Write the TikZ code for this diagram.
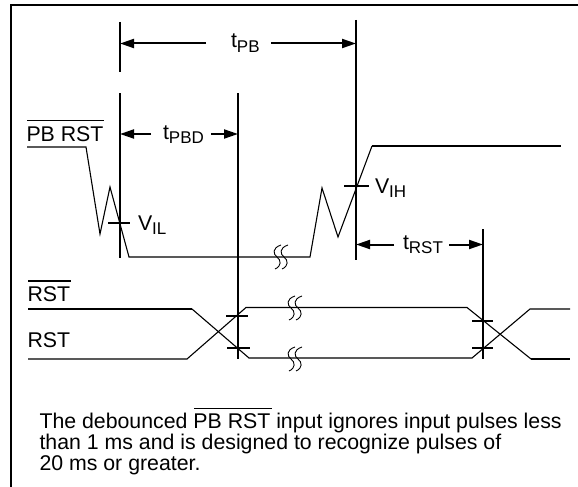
\documentclass[tikz,border=0pt]{standalone}
\usepackage{fontspec}
\setmainfont{Liberation Sans}
\usetikzlibrary{arrows.meta}
\newcommand{\lab}[2]{#1\raisebox{-4.5pt}{\fontsize{17}{17}\selectfont #2}}
\tikzset{
  x=1pt,y=-1pt,
  lbl/.style={anchor=base west,inner sep=0pt,outer sep=0pt,font=\fontsize{21.3}{21.3}\selectfont},
  thick line/.style={line width=2pt},
  thin line/.style={line width=1.1pt},
  guide/.style={line width=2pt},
  tick/.style={line width=2pt},
  dim/.style={line width=2pt,-{Triangle[length=14pt,width=9pt]}},
  brk/.style={line width=0.9pt}
}
\newcommand{\sbreak}[2]{%
  \draw[brk] (#1+4,#2-12) .. controls (#1-5,#2-9) and (#1-4,#2-3) .. (#1,#2) .. controls (#1+4,#2+3) and (#1+5,#2+9) .. (#1-2,#2+12);
  \draw[brk] (#1+11,#2-12) .. controls (#1+2,#2-9) and (#1+3,#2-3) .. (#1+7,#2) .. controls (#1+11,#2+3) and (#1+12,#2+9) .. (#1+5,#2+12);
}
\begin{document}
\begin{tikzpicture}
\useasboundingbox (0,0) rectangle (578,487);
\fill[white] (0,0) rectangle (578,487);
% frame
\draw[line width=2pt] (11,487) -- (11,5) -- (578,5);
% guide lines
\coordinate (a1) at (120,22); \coordinate (a2) at (120,72);
\coordinate (b1) at (120,93); \coordinate (b2) at (120,258);
\coordinate (c1) at (238,93); \coordinate (c2) at (238,359);
\coordinate (d1) at (356,20); \coordinate (d2) at (356,260);
\coordinate (e1) at (483,229); \coordinate (e2) at (483,359);
\draw[guide] (a1)--(a2);
\draw[guide] (b1)--(b2);
\draw[guide] (c1)--(c2);
\draw[guide] (d1)--(d2);
\draw[guide] (e1)--(e2);
% dimension arrows
\coordinate (pbl) at (206,43.5); \coordinate (pbr) at (271,43.5);
\draw[dim] (pbl) -- (120,43.5);
\draw[dim] (pbr) -- (356,43.5);
\coordinate (pdl) at (151,134); \coordinate (pdr) at (211,134);
\draw[dim] (pdl) -- (120,134);
\draw[dim] (pdr) -- (238,134);
\coordinate (rsl) at (394,244.5); \coordinate (rsr) at (449,244.5);
\draw[dim] (rsl) -- (356,244.5);
\draw[dim] (rsr) -- (483,244.5);
% labels
\node[lbl] (tpb) at (231,48) {\lab{t}{PB}};
\node[lbl] (tpbd) at (163,139) {\lab{t}{PBD}};
\node[lbl] (trst) at (403,249) {\lab{t}{RST}};
\node[lbl] (vil) at (138,230) {\lab{V}{IL}};
\node[lbl] (vih) at (375,193) {\lab{V}{IH}};
\node[lbl] (pbrst) at (26.5,141) {PB RST};
\draw[line width=1.5pt] (27,120.5) -- (104,120.5);
\node[lbl] (rstn) at (27.5,301) {RST};
\draw[line width=1.5pt] (28,281) -- (71,281);
\node[lbl] (rstp) at (27.5,347) {RST};
% PB RST waveform
\draw[thin line,line join=miter] (27,147) -- (86,147) -- (100,234) -- (110,187) -- (129,257) -- (310,257) -- (322,188) -- (338,237) -- (372,146);
\draw[thick line] (372,146) -- (561,146);
\sbreak{277}{257}
% threshold ticks
\draw[tick] (108,222.5) -- (130,222.5);
\draw[tick] (344,185.5) -- (369,185.5);
% RST waveforms
\draw[thick line] (28,309) -- (192,309);
\draw[thin line] (192,309) -- (249,358) -- (472,358) -- (530,309) -- (570,309);
\draw[thin line] (28,359) -- (187,359) -- (246,307.5) -- (467,307.5) -- (531,359);
\draw[thick line] (531,359) -- (570,359);
\sbreak{291}{308}
\sbreak{291}{359}
\draw[tick] (226,315.5) -- (248,315.5);
\draw[tick] (227,348) -- (250,348);
\draw[tick] (472,321) -- (493,321);
\draw[tick] (472,348) -- (493,348);
% note
\node[lbl] (note) at (39.5,428) {The debounced PB RST input ignores input pulses less};
\node[lbl] (note2) at (39.5,449) {than 1 ms and is designed to recognize pulses of};
\node[lbl] (note3) at (39.5,470) {20 ms or greater.};
\draw[line width=1.5pt] (194,408.5) -- (272,408.5);
\end{tikzpicture}
\end{document}
